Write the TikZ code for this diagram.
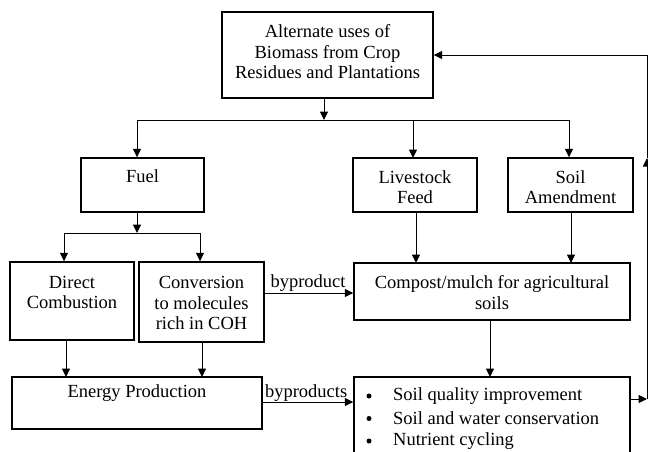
\documentclass[tikz,border=0pt]{standalone}
\usepackage{fontspec}
\setmainfont{Liberation Serif}
\usetikzlibrary{arrows.meta}
\begin{document}
\begin{tikzpicture}[x=1pt,y=-1pt,
  boxline/.style={draw=black,line width=1.4pt},
  txt/.style={inner sep=0pt,align=center,font=\fontsize{18.5}{20.5}\selectfont},
  lbl/.style={inner sep=0pt,font=\fontsize{18.5}{20.5}\selectfont},
  bull/.style={circle,fill=black,inner sep=0pt,minimum size=5pt},
  conn/.style={draw=black,line width=1pt},
  arr/.style={conn,-{Triangle[length=8.5pt,width=8pt]}}]
\useasboundingbox (0,0) rectangle (648,451);
\clip (0,0) rectangle (648,451);
\fill[white] (0,0) rectangle (648,451);
% boxes
\node[boxline,inner sep=0pt,minimum width=211pt,minimum height=86pt] (top) at (327.5,55) {};
\node[txt] (toptxt) at (327.5,52) {Alternate uses of\\Biomass from Crop\\Residues and Plantations};
\node[boxline,inner sep=0pt,minimum width=123pt,minimum height=54pt] (fuel) at (142.5,185) {};
\node[txt,anchor=center] (fueltxt) at (142.5,176) {Fuel};
\node[boxline,inner sep=0pt,minimum width=124pt,minimum height=54pt] (live) at (415,185) {};
\node[txt] (livetxt) at (415,187) {Livestock\\Feed};
\node[boxline,inner sep=0pt,minimum width=125pt,minimum height=54pt] (soil) at (570.5,185) {};
\node[txt] (soiltxt) at (570.5,187) {Soil\\Amendment};
\node[boxline,inner sep=0pt,minimum width=124pt,minimum height=78pt] (direct) at (72,301) {};
\node[txt] (directtxt) at (72,292.5) {Direct\\Combustion};
\node[boxline,inner sep=0pt,minimum width=125pt,minimum height=80pt] (conv) at (201.5,302) {};
\node[txt] (convtxt) at (201.5,303) {Conversion\\to molecules\\rich in COH};
\node[boxline,inner sep=0pt,minimum width=276pt,minimum height=57pt] (comp) at (492,291.5) {};
\node[txt] (comptxt) at (492,292.5) {Compost/mulch for agricultural\\soils};
\node[boxline,inner sep=0pt,minimum width=250pt,minimum height=52pt] (energy) at (137,403) {};
\node[txt] (energytxt) at (137,393) {Energy Production};
\node[boxline,inner sep=0pt,minimum width=276pt,minimum height=110pt] (bul) at (492,432) {};
\node[bull] (b1) at (369,396) {};
\node[bull] (b2) at (369,418.5) {};
\node[bull] (b3) at (369,441) {};
\node[lbl,anchor=west] (t1) at (393,396) {Soil quality improvement};
\node[lbl,anchor=west] (t2) at (393,418.5) {Soil and water conservation};
\node[lbl,anchor=west] (t3) at (393,441) {Nutrient cycling};
% connectors
\coordinate (j1) at (324,120);
\coordinate (jl) at (137,120);
\coordinate (jr) at (569,120);
\draw[arr] (324,98) -- (j1);
\draw[conn] (jl) -- (jr);
\draw[arr] (jl) -- (jl |- fuel.north);
\draw[arr] (413,120) -- (413,158);
\draw[arr] (jr) -- (jr |- soil.north);
\coordinate (f1) at (137,212);
\coordinate (f2) at (137,233);
\draw[arr] (f1) -- (f2);
\coordinate (fl) at (64,233); \coordinate (fr) at (200,233);
\draw[conn] (fl) -- (fr);
\draw[arr] (fl) -- (fl |- direct.north);
\draw[arr] (fr) -- (fr |- conv.north);
\draw[arr] (66,340) -- (66,377);
\draw[arr] (202,342) -- (202,377);
\draw[arr] (416,212) -- (416,263);
\draw[arr] (571,212) -- (571,263);
\draw[arr] (490,320) -- (490,377);
\draw[arr] (conv.east |- 0,293) -- (comp.west |- 0,293) node[lbl,pos=0.06,anchor=south west,yshift=1.5pt] (bp1) {byproduct};
\draw[arr] (energy.east |- 0,402) -- (bul.west |- 0,402) node[lbl,pos=0.02,anchor=south west,yshift=0pt] (bp2) {byproducts};
\coordinate (rb) at (647,399);
\coordinate (rm) at (647,158);
\coordinate (rt) at (647,55);
\draw[arr] (bul.east |- rb) -- (rb);
\draw[arr] (rb) -- (rm);
\draw[conn] (rm) -- (rt);
\draw[arr] (rt) -- (top.east |- rt);
\end{tikzpicture}
\end{document}
